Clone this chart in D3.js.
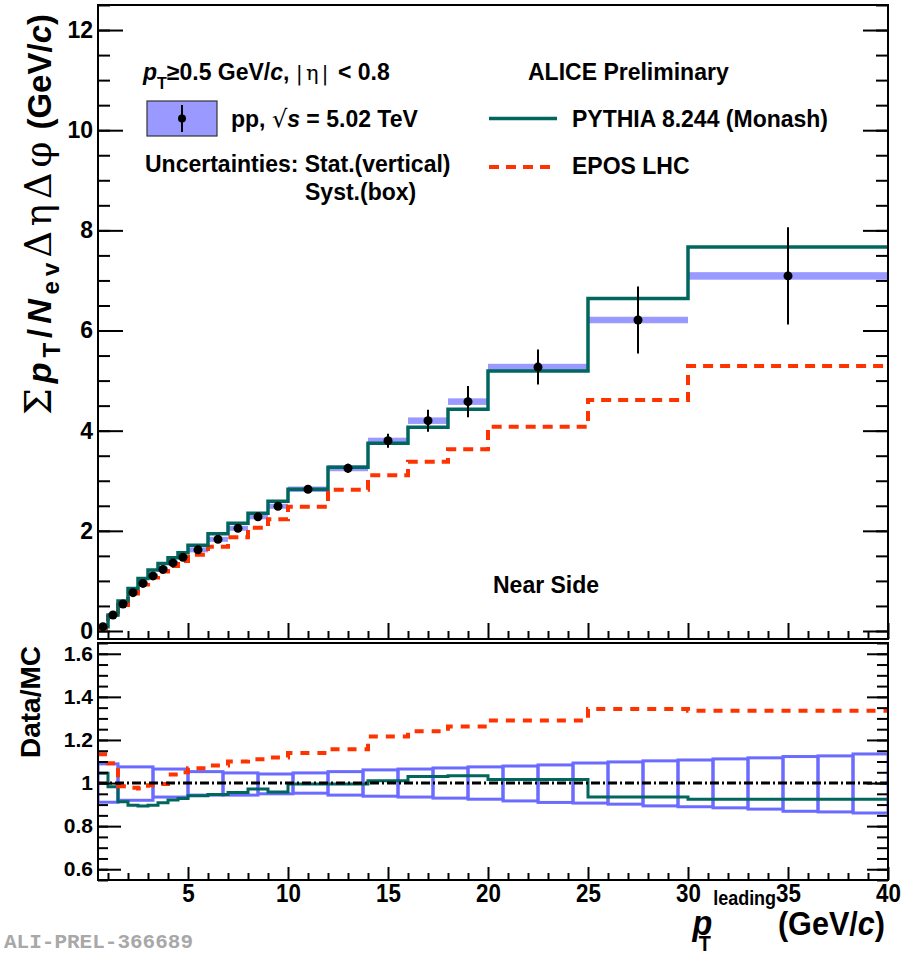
<!DOCTYPE html>
<html>
<head>
<meta charset="utf-8">
<script src="https://cdn.jsdelivr.net/npm/d3@7"></script>
<style>
  body { margin: 0; background: #fff; }
  text { font-family: "Liberation Sans", Arial, Helvetica, sans-serif; font-weight: bold; fill: #000; }
  .sym { font-family: "DejaVu Serif", "Liberation Serif", serif; font-weight: normal; }
</style>
</head>
<body>
<svg id="chart" width="901" height="954"></svg>
<script>
// pT-leading bin edges (GeV/c)
const binEdges = [0.5, 1, 1.5, 2, 2.5, 3, 3.5, 4, 4.5, 5, 6, 7, 8, 9, 10, 12, 14, 16, 18, 20, 25, 30, 40];

// Near-side summed pT density, pp 5.02 TeV
const dataVal  = [0.087, 0.32, 0.54, 0.765, 0.95, 1.10, 1.23, 1.36, 1.47, 1.62, 1.83, 2.05, 2.28, 2.49, 2.83, 3.25, 3.80, 4.20, 4.58, 5.27, 6.21, 7.09];
const dataStat = [0.005, 0.008, 0.01, 0.012, 0.014, 0.016, 0.018, 0.02, 0.022, 0.02, 0.025, 0.03, 0.035, 0.04, 0.05, 0.09, 0.14, 0.22, 0.31, 0.35, 0.67, 0.97];
const dataSyst = [0.04, 0.04, 0.04, 0.04, 0.04, 0.045, 0.045, 0.045, 0.045, 0.05, 0.05, 0.05, 0.05, 0.05, 0.055, 0.06, 0.06, 0.065, 0.065, 0.065, 0.065, 0.075];

// Model predictions
const pythiaVal = [0.085, 0.32, 0.60, 0.85, 1.05, 1.22, 1.35, 1.46, 1.56, 1.71, 1.94, 2.15, 2.35, 2.59, 2.83, 3.27, 3.75, 4.07, 4.43, 5.19, 6.64, 7.67];
const eposVal   = [0.06, 0.28, 0.52, 0.75, 0.93, 1.07, 1.19, 1.30, 1.40, 1.52, 1.68, 1.87, 2.06, 2.23, 2.48, 2.82, 3.11, 3.38, 3.63, 4.08, 4.61, 5.29];

// Data / model ratios
const ratioPythia = [1.045, 0.983, 0.913, 0.897, 0.893, 0.897, 0.908, 0.921, 0.928, 0.941, 0.947, 0.956, 0.972, 0.959, 0.995, 0.995, 1.011, 1.03, 1.034, 1.017, 0.935, 0.925];
const ratioEpos   = [1.134, 1.092, 0.985, 0.978, 0.975, 0.99, 0.995, 1.04, 1.05, 1.069, 1.081, 1.10, 1.111, 1.118, 1.139, 1.157, 1.216, 1.24, 1.263, 1.29, 1.344, 1.336];

// Relative systematic band of the ratio (uniform boxes)
const ratioBoxEdges = [0.5, 1.5, 3.25, 5, 6.75, 8.5, 10.25, 12, 13.75, 15.5, 17.25, 19, 20.75, 22.5, 24.25, 26, 27.75, 29.5, 31.25, 33, 34.75, 36.5, 38.25, 40];
const ratioSystUp   = [1.089, 1.075, 1.065, 1.053, 1.047, 1.042, 1.047, 1.053, 1.061, 1.065, 1.07, 1.075, 1.079, 1.084, 1.093, 1.098, 1.103, 1.107, 1.112, 1.117, 1.123, 1.126, 1.135];
const ratioSystDown = [0.911, 0.92, 0.935, 0.944, 0.944, 0.95, 0.953, 0.944, 0.939, 0.935, 0.93, 0.925, 0.917, 0.91, 0.907, 0.902, 0.894, 0.89, 0.885, 0.879, 0.869, 0.866, 0.861];

// Axis ticks
const xMajor = [5, 10, 15, 20, 25, 30, 35, 40];
const xMinor = d3.range(1, 40, 1);
const yTopMajor = [0, 2, 4, 6, 8, 10, 12];
const yTopMinor = d3.range(0, 12.51, 0.5);
const yBotMajor = [0.6, 0.8, 1, 1.2, 1.4, 1.6];
const yBotMinor = d3.range(0.55, 1.651, 0.05);

const svg = d3.select("#chart");
const colPythia = "#00665e", colEpos = "#ff3300", colSyst = "#9999ff", colBox = "#6b6bff";

const x  = d3.scaleLinear().domain([0.5, 40]).range([98, 888]);
const yT = d3.scaleLinear().domain([-0.16, 12.5]).range([639, 5]);
const yB = d3.scaleLinear().domain([0.55, 1.65]).range([880, 643]);

const defs = svg.append("defs");
defs.append("clipPath").attr("id", "clipTop").append("rect")
  .attr("x", x(0.5)).attr("y", yT(12.5)).attr("width", x(40) - x(0.5)).attr("height", yT(-0.16) - yT(12.5));
defs.append("clipPath").attr("id", "clipBot").append("rect")
  .attr("x", x(0.5)).attr("y", yB(1.65)).attr("width", x(40) - x(0.5)).attr("height", yB(0.55) - yB(1.65));

const bins = dataVal.map((v, i) => ({
  lo: binEdges[i], hi: binEdges[i + 1], c: (binEdges[i] + binEdges[i + 1]) / 2,
  v, stat: dataStat[i], syst: dataSyst[i]
}));

function stepPoints(vals) {
  const pts = vals.map((v, i) => [binEdges[i], v]);
  pts.push([binEdges[binEdges.length - 1], vals[vals.length - 1]]);
  return pts;
}

// ---------- upper panel ----------
const upper = svg.append("g").attr("clip-path", "url(#clipTop)");
const lineT = d3.line().x(d => x(d[0])).y(d => yT(d[1])).curve(d3.curveStepAfter);

upper.selectAll("rect.syst").data(bins).join("rect").attr("class", "syst")
  .attr("x", d => x(d.lo)).attr("width", d => x(d.hi) - x(d.lo))
  .attr("y", d => yT(d.v + d.syst)).attr("height", d => yT(d.v - d.syst) - yT(d.v + d.syst))
  .attr("fill", colSyst);

upper.append("path").attr("d", lineT(stepPoints(eposVal)))
  .attr("fill", "none").attr("stroke", colEpos).attr("stroke-width", 4).attr("stroke-dasharray", "10 7");
upper.append("path").attr("d", lineT(stepPoints(pythiaVal)))
  .attr("fill", "none").attr("stroke", colPythia).attr("stroke-width", 3.5);

upper.selectAll("line.stat").data(bins).join("line").attr("class", "stat")
  .attr("x1", d => x(d.c)).attr("x2", d => x(d.c))
  .attr("y1", d => yT(d.v - d.stat)).attr("y2", d => yT(d.v + d.stat))
  .attr("stroke", "#000").attr("stroke-width", 2);
upper.selectAll("circle.pt").data(bins).join("circle").attr("class", "pt")
  .attr("cx", d => x(d.c)).attr("cy", d => yT(d.v)).attr("r", 4.5).attr("fill", "#000");

// ---------- ratio panel ----------
const lower = svg.append("g").attr("clip-path", "url(#clipBot)");
const lineB = d3.line().x(d => x(d[0])).y(d => yB(d[1])).curve(d3.curveStepAfter);

const boxes = ratioSystUp.map((u, i) => ({ lo: ratioBoxEdges[i], hi: ratioBoxEdges[i + 1], up: u, dn: ratioSystDown[i] }));
lower.selectAll("rect.rbox").data(boxes).join("rect").attr("class", "rbox")
  .attr("x", d => x(d.lo)).attr("width", d => x(d.hi) - x(d.lo))
  .attr("y", d => yB(d.up)).attr("height", d => yB(d.dn) - yB(d.up))
  .attr("fill", "none").attr("stroke", colBox).attr("stroke-width", 3);

lower.append("path").attr("d", lineB(stepPoints(ratioPythia)))
  .attr("fill", "none").attr("stroke", colPythia).attr("stroke-width", 3);
lower.append("path").attr("d", lineB(stepPoints(ratioEpos)))
  .attr("fill", "none").attr("stroke", colEpos).attr("stroke-width", 4).attr("stroke-dasharray", "9 8");
lower.append("line")
  .attr("x1", x(0.5)).attr("x2", x(40)).attr("y1", yB(1)).attr("y2", yB(1))
  .attr("stroke", "#000").attr("stroke-width", 3).attr("stroke-dasharray", "9 3 2 3");

// ---------- axes ----------
function styleAxis(g) {
  g.select(".domain").remove();
  g.selectAll(".tick line").attr("stroke", "#000").attr("stroke-width", 2);
}
// upper panel
svg.append("g").attr("transform", `translate(${x(0.5)},0)`)
  .call(d3.axisLeft(yT).tickValues(yTopMinor).tickSize(-12).tickFormat(""))
  .call(styleAxis);
svg.append("g").attr("transform", `translate(${x(0.5)},0)`)
  .call(d3.axisLeft(yT).tickValues(yTopMajor).tickSize(-25).tickPadding(5).tickFormat(d3.format("d")))
  .call(styleAxis)
  .selectAll("text").attr("font-size", 23).attr("font-family", "Liberation Sans, Arial, sans-serif").attr("font-weight", "bold");
svg.append("g").attr("transform", `translate(${x(40)},0)`)
  .call(d3.axisRight(yT).tickValues(yTopMinor).tickSize(-12).tickFormat(""))
  .call(styleAxis);
svg.append("g").attr("transform", `translate(${x(40)},0)`)
  .call(d3.axisRight(yT).tickValues(yTopMajor).tickSize(-25).tickFormat(""))
  .call(styleAxis);
svg.append("g").attr("transform", `translate(0,${yT(-0.16)})`)
  .call(d3.axisBottom(x).tickValues(xMinor.filter(v => v % 5 !== 0)).tickSize(-8).tickFormat(""))
  .call(styleAxis);
svg.append("g").attr("transform", `translate(0,${yT(-0.16)})`)
  .call(d3.axisBottom(x).tickValues(xMajor).tickSize(-16).tickFormat(""))
  .call(styleAxis);

// ratio panel
svg.append("g").attr("transform", `translate(${x(0.5)},0)`)
  .call(d3.axisLeft(yB).tickValues(yBotMinor).tickSize(-10).tickFormat(""))
  .call(styleAxis);
svg.append("g").attr("transform", `translate(${x(0.5)},0)`)
  .call(d3.axisLeft(yB).tickValues(yBotMajor).tickSize(-23).tickPadding(5).tickFormat(d3.format("~g")))
  .call(styleAxis)
  .selectAll("text").attr("font-size", 21).attr("font-family", "Liberation Sans, Arial, sans-serif").attr("font-weight", "bold");
svg.append("g").attr("transform", `translate(${x(40)},0)`)
  .call(d3.axisRight(yB).tickValues(yBotMinor).tickSize(-11).tickFormat(""))
  .call(styleAxis);
svg.append("g").attr("transform", `translate(${x(40)},0)`)
  .call(d3.axisRight(yB).tickValues(yBotMajor).tickSize(-21).tickFormat(""))
  .call(styleAxis);
svg.append("g").attr("transform", `translate(0,${yB(0.55)})`)
  .call(d3.axisBottom(x).tickValues(xMinor.filter(v => v % 5 !== 0)).tickSize(-7).tickFormat(""))
  .call(styleAxis);
svg.append("g").attr("transform", `translate(0,${yB(0.55)})`)
  .call(d3.axisBottom(x).tickValues(xMajor).tickSize(-13).tickPadding(4).tickFormat(d3.format("d")))
  .call(styleAxis)
  .selectAll("text").attr("font-size", 26).attr("font-family", "Liberation Sans, Arial, sans-serif")
  .attr("font-weight", "bold").attr("transform", "scale(0.86,1)");

// frames
svg.append("rect").attr("x", x(0.5)).attr("y", yT(12.5)).attr("width", x(40) - x(0.5)).attr("height", yT(-0.16) - yT(12.5))
  .attr("fill", "none").attr("stroke", "#000").attr("stroke-width", 2);
svg.append("rect").attr("x", x(0.5)).attr("y", yB(1.65)).attr("width", x(40) - x(0.5)).attr("height", yB(0.55) - yB(1.65))
  .attr("fill", "none").attr("stroke", "#000").attr("stroke-width", 2);

// ---------- axis titles ----------
// units part, anchored at the top end of the axis
const yUnits = svg.append("text").attr("transform", "translate(51,14) rotate(-90)")
  .attr("text-anchor", "end").attr("font-size", 33);
yUnits.append("tspan").text("(GeV/");
yUnits.append("tspan").attr("font-style", "italic").text("c");
yUnits.append("tspan").text(")");
const unitsLen = yUnits.node().getComputedTextLength();

// quantity part, stretched to end where the units begin
const qEnd = 14 + unitsLen + 12;
const yQty = svg.append("text").attr("transform", `translate(51,${qEnd}) rotate(-90)`)
  .attr("text-anchor", "end").attr("font-size", 33);
yQty.append("tspan").attr("class", "sym").attr("font-size", 38).text("Σ");
yQty.append("tspan").attr("font-style", "italic").attr("font-size", 34).text("p");
yQty.append("tspan").attr("font-size", 24).attr("dy", 9).text("T");
yQty.append("tspan").attr("dy", -9).text("/");
yQty.append("tspan").attr("font-style", "italic").attr("font-size", 34).text("N");
yQty.append("tspan").attr("font-size", 24).attr("dy", 8).text("ev");
yQty.append("tspan").attr("class", "sym").attr("font-size", 37).attr("dy", -8).text("ΔηΔφ");
yQty.attr("textLength", 415 - qEnd).attr("lengthAdjust", "spacing");

svg.append("text").attr("transform", "translate(40,646) rotate(-90)")
  .attr("text-anchor", "end").attr("font-size", 28).text("Data/MC");

const xt = svg.append("g").attr("transform", "translate(885,935) scale(0.9,1)");
xt.append("text").attr("text-anchor", "end").attr("font-size", 34).html('(GeV/<tspan font-style="italic">c</tspan>)');
xt.append("text").attr("x", -121).attr("y", -30).attr("text-anchor", "end").attr("font-size", 20).text("leading");
const pT = xt.append("text").attr("x", -214).attr("y", 0).attr("font-size", 36);
pT.append("tspan").attr("font-style", "italic").text("p");
pT.append("tspan").attr("font-size", 22).attr("dx", -15).attr("dy", 16).text("T");

svg.append("text").attr("x", 4).attr("y", 948)
  .attr("font-size", 21)
  .style("font-family", "'Liberation Mono', 'Courier New', monospace").style("fill", "#a8a8a8")
  .text("ALI-PREL-366689");

// ---------- legends and labels ----------
const l1 = svg.append("text").attr("x", 143).attr("y", 80).attr("font-size", 23);
l1.append("tspan").attr("font-style", "italic").text("p");
l1.append("tspan").attr("font-size", 16).attr("dy", 9).text("T");
l1.append("tspan").attr("dy", -9).text("≥0.5 GeV/");
l1.append("tspan").attr("font-style", "italic").text("c");
l1.append("tspan").text(", ");
l1.append("tspan").attr("class", "sym").attr("font-size", 21).attr("letter-spacing", 3).text("|η|");
l1.append("tspan").text(" < 0.8");

svg.append("rect").attr("x", 147).attr("y", 101).attr("width", 70).attr("height", 35)
  .attr("fill", colSyst).attr("stroke", "#333").attr("stroke-width", 1.2);
svg.append("line").attr("x1", 182).attr("x2", 182).attr("y1", 105).attr("y2", 132).attr("stroke", "#000").attr("stroke-width", 2);
svg.append("circle").attr("cx", 182).attr("cy", 118.5).attr("r", 4).attr("fill", "#000");

const l2 = svg.append("text").attr("x", 231).attr("y", 127).attr("font-size", 23);
l2.append("tspan").text("pp,  ");
l2.append("tspan").attr("class", "sym").attr("font-size", 24).text("√");
l2.append("tspan").attr("font-style", "italic").text("s");
l2.append("tspan").text(" = 5.02 TeV");

svg.append("text").attr("x", 145).attr("y", 172).attr("font-size", 23).text("Uncertainties: Stat.(vertical)");
svg.append("text").attr("x", 305).attr("y", 200).attr("font-size", 23).text("Syst.(box)");

svg.append("text").attr("x", 528).attr("y", 80).attr("font-size", 23).text("ALICE Preliminary");

svg.append("line").attr("x1", 489).attr("x2", 557).attr("y1", 118.5).attr("y2", 118.5)
  .attr("stroke", colPythia).attr("stroke-width", 3.5);
svg.append("text").attr("x", 572).attr("y", 127).attr("font-size", 23).text("PYTHIA 8.244 (Monash)");

svg.append("line").attr("x1", 489).attr("x2", 552).attr("y1", 167).attr("y2", 167)
  .attr("stroke", colEpos).attr("stroke-width", 4).attr("stroke-dasharray", "10 7");
svg.append("text").attr("x", 572).attr("y", 174).attr("font-size", 23).text("EPOS LHC");

svg.append("text").attr("x", 493).attr("y", 593).attr("font-size", 23).text("Near Side");
</script>
</body>
</html>
